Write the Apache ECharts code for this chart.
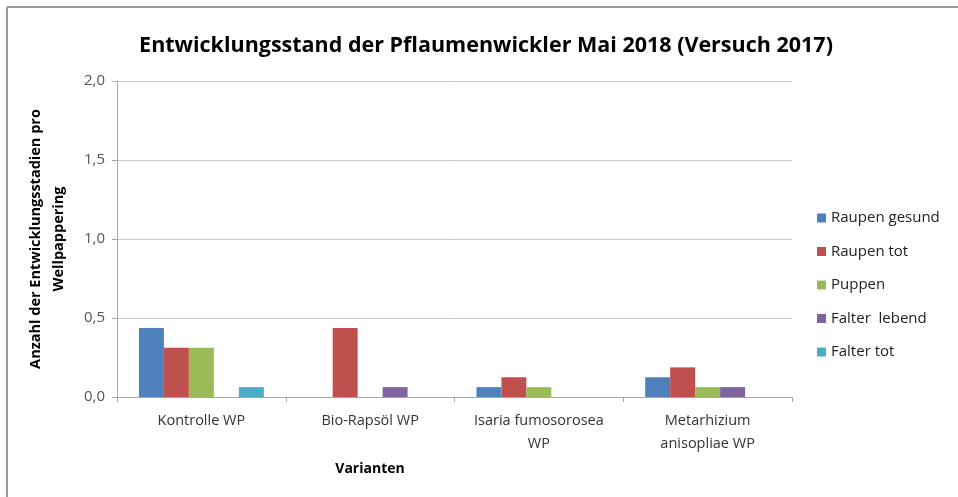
<!DOCTYPE html>
<html><head><meta charset="utf-8">
<script src="https://cdn.jsdelivr.net/npm/echarts@6/dist/echarts.min.js"></script>
<style>html,body{margin:0;padding:0;background:#fff}#c{width:958px;height:497px}</style>
</head><body><div id="c"></div>
<script>
const categories = ['Kontrolle WP', 'Bio-Rapsöl WP', 'Isaria fumosorosea\nWP', 'Metarhizium\nanisopliae WP'];
const raupenGesund = [0.4375, 0, 0.0625, 0.125];
const raupenTot = [0.3125, 0.4375, 0.125, 0.1875];
const puppen = [0.3125, 0, 0.0625, 0.0625];
const falterLebend = [0, 0.0625, 0, 0.0625];
const falterTot = [0.0625, 0, 0, 0];
const seriesNames = ['Raupen gesund', 'Raupen tot', 'Puppen', 'Falter  lebend', 'Falter tot'];
const seriesData = [raupenGesund, raupenTot, puppen, falterLebend, falterTot];
const colors = ['#4F81BD', '#C0504D', '#9BBB59', '#8064A2', '#4BACC6'];
const yTicks = [0, 0.5, 1.0, 1.5, 2.0];

const FONT = '"Open Sans", "Noto Sans", sans-serif';
const chart = echarts.init(document.getElementById('c'));
chart.setOption({
  animation: false,
  color: colors,
  textStyle: {fontFamily: FONT},
  title: [
    {text: 'Entwicklungsstand der Pflaumenwickler Mai 2018 (Versuch 2017)', left: 481, textAlign: 'center', top: 30,
     textStyle: {fontSize: 21.5, fontWeight: 'bold', color: '#000', fontFamily: FONT}},
    {text: 'Varianten', left: 365, textAlign: 'center', top: 457,
     textStyle: {fontSize: 14, fontWeight: 'bold', color: '#000', fontFamily: FONT}}
  ],
  graphic: [
    {type: 'line', shape: {x1: 7, y1: 7, x2: 958, y2: 7}, style: {stroke: '#9a9a9a', lineWidth: 2}},
    {type: 'line', shape: {x1: 7, y1: 7, x2: 7, y2: 497}, style: {stroke: '#9a9a9a', lineWidth: 2}}
  ],
  legend: {
    orient: 'vertical', left: 812, top: 204, itemWidth: 9, itemHeight: 9, itemGap: 15.5,
    icon: 'rect',
    textStyle: {fontSize: 15, color: '#222', fontFamily: FONT, lineHeight: 18},
    data: seriesNames
  },
  grid: {left: 117, right: 166, top: 81, bottom: 100},
  xAxis: {
    type: 'category', data: categories,
    axisLine: {lineStyle: {color: '#a6a6a6'}},
    axisTick: {show: true, length: 5, lineStyle: {color: '#a6a6a6'}},
    axisLabel: {interval: 0, fontSize: 14.5, color: '#333', margin: 12, lineHeight: 23, fontFamily: FONT}
  },
  yAxis: {
    type: 'value', min: 0, max: 2, interval: 0.5,
    name: 'Anzahl der Entwicklungsstadien pro\nWellpappering',
    nameLocation: 'middle', nameRotate: 90, nameGap: 47,
    nameTextStyle: {fontSize: 14.5, fontWeight: 'bold', color: '#000', lineHeight: 23, fontFamily: FONT},
    axisLine: {show: true, lineStyle: {color: '#a6a6a6'}},
    axisTick: {show: true, length: 5, lineStyle: {color: '#a6a6a6'}},
    splitLine: {lineStyle: {color: '#c8c8c8'}},
    axisLabel: {fontSize: 15, color: '#555', margin: 12, fontFamily: FONT,
      formatter: v => v.toFixed(1).replace('.', ',')}
  },
  series: seriesNames.map((n, i) => ({
    name: n, type: 'bar', data: seriesData[i], barGap: '0%', barCategoryGap: '26%'
  }))
});
</script></body></html>
